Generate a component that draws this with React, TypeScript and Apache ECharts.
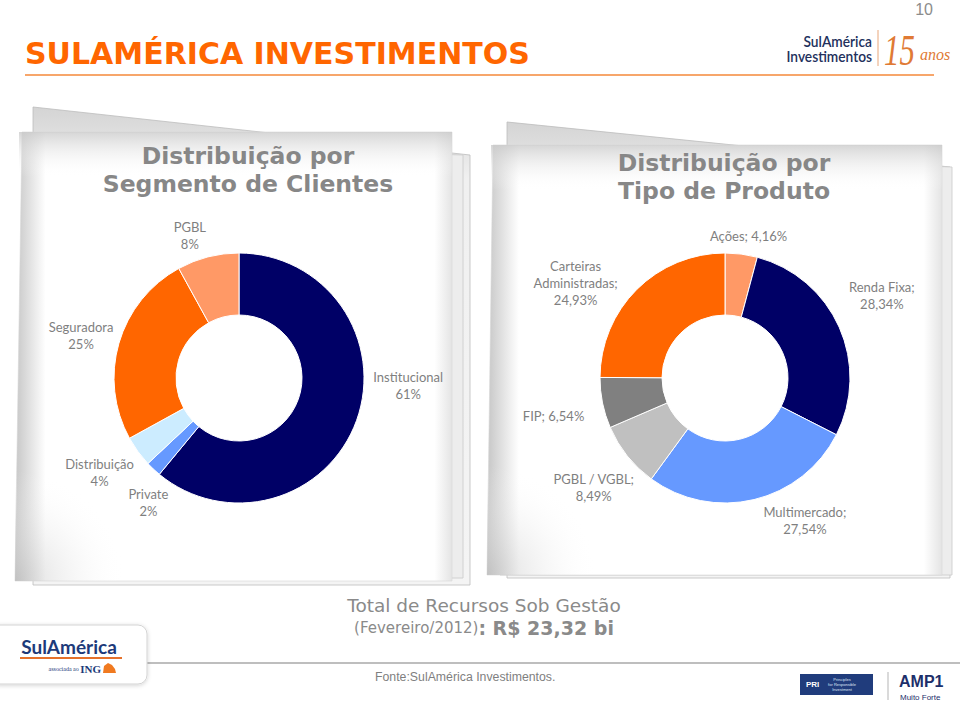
import React, { useEffect, useRef } from 'react';
import * as echarts from 'echarts';

// ---------- data ----------
const segmentCategories = ['Institucional', 'Private', 'Distribuição', 'Seguradora', 'PGBL'];
const segmentValues = [61, 2, 4, 25, 8];

const productCategories = ['Ações', 'Renda Fixa', 'Multimercado', 'PGBL / VGBL', 'FIP', 'Carteiras Administradas'];
const productValues = [4.16, 28.34, 27.54, 8.49, 6.54, 24.93];

const segmentTitle = 'Distribuição por\nSegmento de Clientes';
const productTitle = 'Distribuição por\nTipo de Produto';
const totalLabel = 'Total de Recursos Sob Gestão';
const totalPeriod = '(Fevereiro/2012)';
const totalValue = ': R$ 23,32 bi';
const sourceText = 'Fonte:SulAmérica Investimentos.';

// ---------- styles ----------
const NAVY = '#000066';
const ORANGE = '#FF6600';
const LIGHT_ORANGE = '#FF9966';
const BLUE = '#6699FF';
const PALE_BLUE = '#CCECFF';
const segmentColors = [NAVY, BLUE, PALE_BLUE, ORANGE, LIGHT_ORANGE];
const productColors = [LIGHT_ORANGE, NAVY, BLUE, '#C0C0C0', '#808080', ORANGE];

const LABEL_GRAY = '#7F7F7F';
const TITLE_GRAY = '#878787';

// label nudges (layout only) relative to radial placement
const segmentNudges = [[4, -52], [21, 6], [2, -8], [8, 6], [-10, 10]];
const productNudges = [[4, 7], [-2, -12], [42, -16], [9, -2], [-6, 4], [-19, 36]];

function wrapWords(text: string, max: number) {
  const words = text.split(' ');
  const lines: string[] = [];
  let cur = '';
  words.forEach((w) => {
    if (!cur) cur = w;
    else if ((cur + ' ' + w).length <= max) cur = cur + ' ' + w;
    else {
      lines.push(cur);
      cur = w;
    }
  });
  if (cur) lines.push(cur);
  return lines.join('\n');
}

function makeLabelLayout(values: number[], cx: number, cy: number, outerR: number, gap: number, nudges: number[][]) {
  const total = values.reduce((a, b) => a + b, 0);
  const mids: number[] = [];
  let acc = 0;
  values.forEach((v) => {
    mids.push(((acc + v / 2) / total) * Math.PI * 2);
    acc += v;
  });
  return (params: any) => {
    const i = params.dataIndex;
    const a = mids[i];
    const dx = Math.sin(a);
    const dy = -Math.cos(a);
    const w = params.labelRect.width;
    const h = params.labelRect.height;
    const d = outerR + gap + (Math.abs(dx) * w) / 2 + (Math.abs(dy) * h) / 2;
    const n = nudges[i] || [0, 0];
    return { x: cx + dx * d + n[0], y: cy + dy * d + n[1], align: 'center', verticalAlign: 'middle' };
  };
}

function sheet(front: number[][], backTilt: number[][], backSide: number[][], shadeW: number) {
  const xs = front.map((p) => p[0]);
  const ys = front.map((p) => p[1]);
  const x0 = Math.min(...xs);
  const x1 = Math.max(...xs);
  const y0 = Math.min(...ys);
  return [
    {
      type: 'polygon',
      z: 0,
      shape: { points: backTilt },
      style: {
        fill: { type: 'linear', x: 0, y: 0, x2: 0, y2: 1, colorStops: [{ offset: 0, color: '#d4d4d4' }, { offset: 0.15, color: '#f0f0f0' }, { offset: 1, color: '#f4f4f4' }] },
        stroke: '#bdbdbd',
        lineWidth: 0.8,
      },
    },
    {
      type: 'polygon',
      z: 0,
      shape: { points: backSide },
      style: { fill: '#ededed', stroke: '#c9c9c9', lineWidth: 0.8 },
    },
    {
      type: 'polygon',
      z: 1,
      shape: { points: front },
      style: {
        fill: {
          type: 'linear', x: 0, y: 0, x2: 1, y2: 0,
          colorStops: [
            { offset: 0, color: '#c6c6c6' },
            { offset: shadeW, color: '#ffffff' },
            { offset: 0.96, color: '#ffffff' },
            { offset: 1, color: '#e4e4e4' },
          ],
        },
        stroke: '#d6d6d6',
        lineWidth: 0.6,
      },
    },
    {
      type: 'rect',
      z: 1,
      shape: { x: x0 + 4, y: y0, width: x1 - x0 - 4, height: 45 },
      style: {
        fill: { type: 'linear', x: 0, y: 0, x2: 0, y2: 1, colorStops: [{ offset: 0, color: 'rgba(200,200,200,0.75)' }, { offset: 1, color: 'rgba(255,255,255,0)' }] },
      },
    },
  ];
}

export default function App() {
  const ref = useRef<HTMLDivElement>(null);

  useEffect(() => {
    if (!ref.current) return;
    const chart = echarts.init(ref.current, undefined, { renderer: 'svg' });

    const leftC = [239, 378];
    const rightC = [725, 378];
    const rIn = 63;
    const rOut = 125;

    const fmtPct = (v: number) => v.toFixed(2).replace('.', ',') + '%';

    const segmentData = segmentCategories.map((name, i) => ({
      name,
      value: segmentValues[i],
      itemStyle: { color: segmentColors[i] },
    }));
    const productData = productCategories.map((name, i) => ({
      name,
      value: productValues[i],
      itemStyle: { color: productColors[i] },
    }));

    const labelStyle = {
      show: true,
      position: 'outside',
      color: LABEL_GRAY,
      fontFamily: 'Lato',
      fontSize: 13,
      lineHeight: 17,
    };

    const option: any = {
      animation: false,
      backgroundColor: '#ffffff',
      graphic: [
        // sheets
        ...sheet(
          [[22, 132], [452, 132], [452, 581], [15, 581]],
          [[33, 107], [470, 155], [470, 585], [33, 585]],
          [[30, 142], [463, 155], [463, 578], [30, 578]],
          0.07
        ),
        ...sheet(
          [[493, 145], [942, 145], [942, 575], [487, 575]],
          [[507, 122], [950, 167], [950, 578], [507, 578]],
          [[500, 150], [952, 167], [952, 575], [500, 575]],
          0.07
        ),
        // lower-left corner shading of sheets
        {
          type: 'rect', z: 1,
          shape: { x: 15, y: 470, width: 110, height: 111 },
          style: { fill: { type: 'radial', x: 0, y: 1, r: 1, colorStops: [{ offset: 0, color: 'rgba(190,190,190,0.6)' }, { offset: 1, color: 'rgba(255,255,255,0)' }] } },
        },
        {
          type: 'rect', z: 1,
          shape: { x: 487, y: 465, width: 110, height: 110 },
          style: { fill: { type: 'radial', x: 0, y: 1, r: 1, colorStops: [{ offset: 0, color: 'rgba(190,190,190,0.6)' }, { offset: 1, color: 'rgba(255,255,255,0)' }] } },
        },
        // page number
        {
          type: 'text', z: 5, x: 933, y: 9,
          style: { text: '10', fill: '#8c8c8c', font: '16px "Liberation Sans"', align: 'right', verticalAlign: 'middle' },
        },
        // main title
        {
          type: 'text', z: 5, x: 25, y: 53.5,
          style: { text: 'SULAMÉRICA INVESTIMENTOS', fill: '#FF6600', font: 'bold 30px "DejaVu Sans"', align: 'left', verticalAlign: 'middle' },
        },
        {
          type: 'line', z: 5,
          shape: { x1: 25, y1: 75, x2: 934, y2: 75 },
          style: { stroke: '#F5883A', lineWidth: 1.5 },
        },
        // top-right logo
        {
          type: 'text', z: 5, x: 872, y: 41, scaleX: 0.86, originX: 0, originY: 0,
          style: { text: 'SulAmérica', fill: '#22305C', font: '600 16px "Lato"', align: 'right', verticalAlign: 'middle' },
        },
        {
          type: 'text', z: 5, x: 872, y: 56, scaleX: 0.86, originX: 0, originY: 0,
          style: { text: 'Investimentos', fill: '#22305C', font: '600 16px "Lato"', align: 'right', verticalAlign: 'middle' },
        },
        {
          type: 'line', z: 5,
          shape: { x1: 878, y1: 30, x2: 878, y2: 66 },
          style: { stroke: '#E9A77A', lineWidth: 1 },
        },
        {
          type: 'text', z: 5, x: 884, y: 50, scaleX: 0.7, originX: 0, originY: 0,
          style: { text: '15', fill: '#E07A35', font: 'italic 44px "Liberation Serif"', align: 'left', verticalAlign: 'middle' },
        },
        {
          type: 'text', z: 5, x: 920, y: 54,
          style: { text: 'anos', fill: '#E07A35', font: 'italic 16px "Liberation Serif"', align: 'left', verticalAlign: 'middle' },
        },
        // chart titles
        {
          type: 'text', z: 5, x: 248, y: 170,
          style: { text: segmentTitle, fill: TITLE_GRAY, font: 'bold 23.5px "DejaVu Sans"', lineHeight: 28, align: 'center', verticalAlign: 'middle' },
        },
        {
          type: 'text', z: 5, x: 724, y: 177,
          style: { text: productTitle, fill: TITLE_GRAY, font: 'bold 23.5px "DejaVu Sans"', lineHeight: 28, align: 'center', verticalAlign: 'middle' },
        },
        // bottom totals
        {
          type: 'text', z: 5, x: 484, y: 605,
          style: { text: totalLabel, fill: '#8a8a8a', font: '18.5px "DejaVu Sans"', align: 'center', verticalAlign: 'middle' },
        },
        {
          type: 'text', z: 5, x: 484, y: 628,
          style: {
            text: '{a|' + totalPeriod + '}{b|' + totalValue + '}',
            align: 'center',
            verticalAlign: 'middle',
            rich: {
              a: { fill: '#8a8a8a', fontFamily: 'DejaVu Sans', fontSize: 15 },
              b: { fill: '#8a8a8a', fontFamily: 'DejaVu Sans', fontSize: 19, fontWeight: 'bold' },
            },
          },
        },
        // footer rule & source
        {
          type: 'line', z: 5,
          shape: { x1: 147, y1: 663, x2: 960, y2: 663 },
          style: { stroke: '#a9a9a9', lineWidth: 1.5 },
        },
        {
          type: 'text', z: 5, x: 375, y: 677,
          style: { text: sourceText, fill: '#7f7f7f', font: '12.3px "Liberation Sans"', align: 'left', verticalAlign: 'middle' },
        },
        // bottom-left logo box
        {
          type: 'rect', z: 5,
          shape: { x: -10, y: 625, width: 157, height: 59, r: 9 },
          style: { fill: '#ffffff', stroke: '#d3d3d3', lineWidth: 1, shadowBlur: 4, shadowColor: 'rgba(0,0,0,0.18)', shadowOffsetY: 1 },
        },
        {
          type: 'text', z: 6, x: 69, y: 646,
          style: { text: 'SulAmérica', fill: '#1D3A7A', font: 'bold 19px "Lato"', align: 'center', verticalAlign: 'middle' },
        },
        {
          type: 'line', z: 6,
          shape: { x1: 20, y1: 658, x2: 122, y2: 658 },
          style: { stroke: '#E5712B', lineWidth: 2 },
        },
        {
          type: 'text', z: 6, x: 101, y: 669,
          style: {
            text: '{a|associada ao }{b|ING}',
            align: 'right',
            verticalAlign: 'middle',
            rich: {
              a: { fill: '#1D3A7A', fontFamily: 'Liberation Serif', fontSize: 6 },
              b: { fill: '#1D3A7A', fontFamily: 'Liberation Serif', fontSize: 11, fontWeight: 'bold' },
            },
          },
        },
        {
          type: 'polygon', z: 6,
          shape: { points: [[103, 673], [104, 666], [108, 663], [112, 665], [115, 669], [116, 673]] },
          style: { fill: '#F07A20' },
        },
        // bottom-right logos
        {
          type: 'rect', z: 5,
          shape: { x: 800, y: 674, width: 73, height: 21 },
          style: { fill: '#203C7C' },
        },
        {
          type: 'text', z: 6, x: 806, y: 684.5,
          style: { text: 'PRI', fill: '#ffffff', font: 'bold 8px "Liberation Sans"', align: 'left', verticalAlign: 'middle' },
        },
        {
          type: 'text', z: 6, x: 842, y: 684.5,
          style: { text: 'Principles\nfor Responsible\nInvestment', fill: '#dfe6f5', font: '4px "Liberation Sans"', lineHeight: 5, align: 'center', verticalAlign: 'middle' },
        },
        {
          type: 'line', z: 5,
          shape: { x1: 888, y1: 672, x2: 888, y2: 700 },
          style: { stroke: '#b5b5b5', lineWidth: 1 },
        },
        {
          type: 'text', z: 6, x: 899, y: 681,
          style: { text: 'AMP1', fill: '#1D2F6A', font: 'bold 16px "Liberation Sans"', align: 'left', verticalAlign: 'middle' },
        },
        {
          type: 'text', z: 6, x: 900, y: 697,
          style: { text: 'Muito Forte', fill: '#1D2F6A', font: '8px "Liberation Sans"', align: 'left', verticalAlign: 'middle' },
        },
      ],
      series: [
        {
          type: 'pie',
          z: 3,
          center: leftC,
          radius: [rIn, rOut],
          startAngle: 90,
          clockwise: true,
          avoidLabelOverlap: false,
          emphasis: { disabled: true },
          itemStyle: { borderColor: '#ffffff', borderWidth: 1 },
          label: {
            ...labelStyle,
            formatter: (p: any) => `${p.name}\n${p.value}%`,
          },
          labelLine: { show: false },
          labelLayout: makeLabelLayout(segmentValues, leftC[0], leftC[1], rOut, 12, segmentNudges),
          data: segmentData,
        },
        {
          type: 'pie',
          z: 3,
          center: rightC,
          radius: [rIn, rOut],
          startAngle: 90,
          clockwise: true,
          avoidLabelOverlap: false,
          emphasis: { disabled: true },
          itemStyle: { borderColor: '#ffffff', borderWidth: 1 },
          label: {
            ...labelStyle,
            formatter: (p: any) => wrapWords(`${p.name}; ${fmtPct(p.value)}`, 14),
          },
          labelLine: { show: false },
          labelLayout: makeLabelLayout(productValues, rightC[0], rightC[1], rOut, 12, productNudges),
          data: productData,
        },
      ],
    };

    chart.setOption(option);
    return () => chart.dispose();
  }, []);

  return <div ref={ref} style={{ position: 'absolute', left: 0, top: 0, width: 960, height: 704 }} />;
}
